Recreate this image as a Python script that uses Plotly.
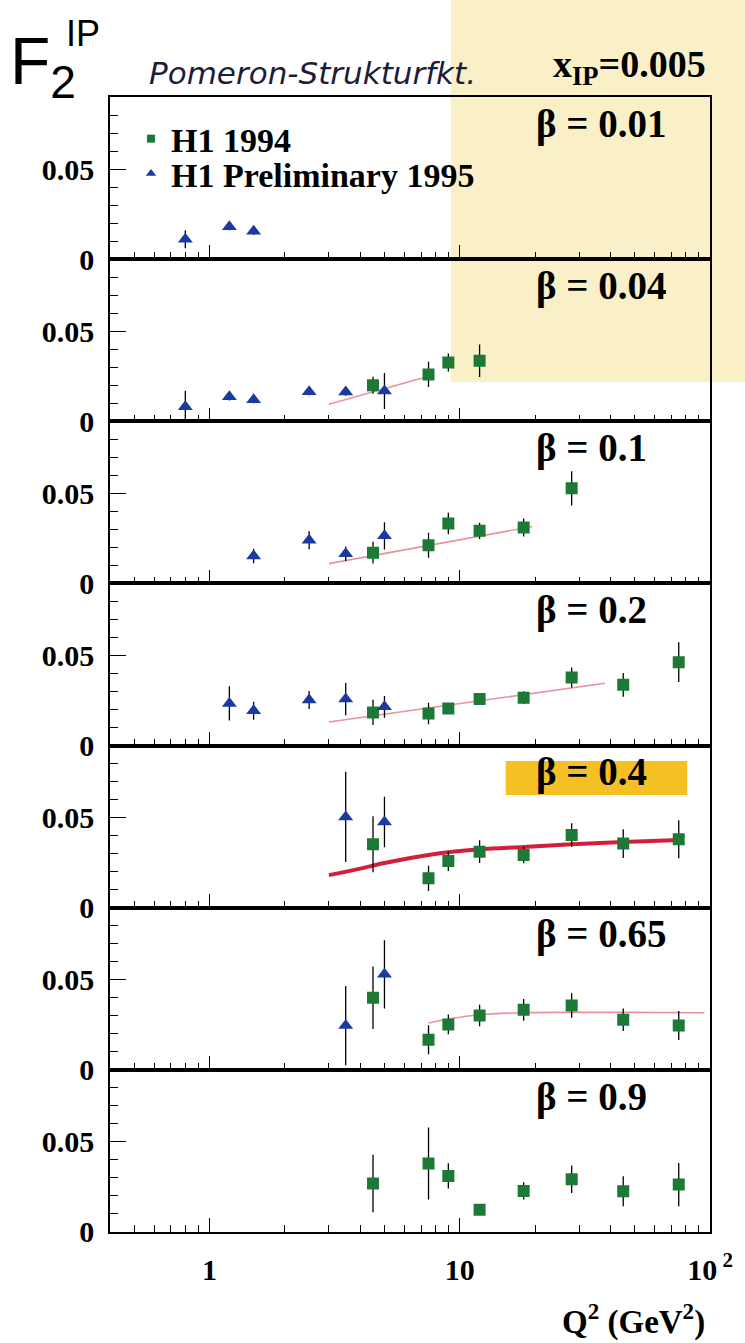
import numpy as np
import plotly.graph_objects as go
from plotly.subplots import make_subplots

# ---------------- data ----------------
beta_labels = ["0.01", "0.04", "0.1", "0.2", "0.4", "0.65", "0.9"]

# H1 Preliminary 1995 (blue triangles)
h95_q2_b001 = [0.8, 1.2, 1.5]
h95_f2_b001 = [0.011, 0.018, 0.0155]
h95_er_b001 = [0.005, 0.002, 0.002]

h95_q2_b004 = [0.8, 1.2, 1.5, 2.5, 3.5, 5.0]
h95_f2_b004 = [0.008, 0.0136, 0.012, 0.0164, 0.0162, 0.0168]
h95_er_b004 = [0.009, 0.002, 0.002, 0.002, 0.002, 0.010]

h95_q2_b01 = [1.5, 2.5, 3.5, 5.0]
h95_f2_b01 = [0.0152, 0.024, 0.0165, 0.0264]
h95_er_b01 = [0.004, 0.005, 0.004, 0.0075]

h95_q2_b02 = [1.2, 1.5, 2.5, 3.5, 5.0]
h95_f2_b02 = [0.0234, 0.0193, 0.0253, 0.0258, 0.0215]
h95_er_b02 = [0.0095, 0.005, 0.005, 0.009, 0.006]

h95_q2_b04 = [3.5, 5.0]
h95_f2_b04 = [0.0504, 0.0476]
h95_er_b04 = [0.025, 0.014]

h95_q2_b065 = [3.5, 5.0]
h95_f2_b065 = [0.0246, 0.053]
h95_er_b065 = [0.022, 0.019]

# H1 1994 (green squares)
h94_q2_b004 = [4.5, 7.5, 9, 12]
h94_f2_b004 = [0.020, 0.026, 0.0326, 0.0336]
h94_er_b004 = [0.0047, 0.007, 0.005, 0.009]

h94_q2_b01 = [4.5, 7.5, 9, 12, 18, 28]
h94_f2_b01 = [0.0171, 0.0212, 0.0333, 0.0292, 0.031, 0.0528]
h94_er_b01 = [0.006, 0.007, 0.006, 0.0045, 0.005, 0.0095]

h94_q2_b02 = [4.5, 7.5, 9, 12, 18, 28, 45, 75]
h94_f2_b02 = [0.0184, 0.0178, 0.0206, 0.0258, 0.0266, 0.0378, 0.0337, 0.0463]
h94_er_b02 = [0.007, 0.006, 0.003, 0.003, 0.0035, 0.0056, 0.0066, 0.011]

h94_q2_b04 = [4.5, 7.5, 9, 12, 18, 28, 45, 75]
h94_f2_b04 = [0.0352, 0.0163, 0.0259, 0.0311, 0.0293, 0.0404, 0.0356, 0.038]
h94_er_b04 = [0.0155, 0.007, 0.0055, 0.0063, 0.0046, 0.0065, 0.008, 0.0105]

h94_q2_b065 = [4.5, 7.5, 9, 12, 18, 28, 45, 75]
h94_f2_b065 = [0.040, 0.0167, 0.0252, 0.0302, 0.0333, 0.0357, 0.0278, 0.0246]
h94_er_b065 = [0.0173, 0.008, 0.0055, 0.006, 0.006, 0.0068, 0.0063, 0.008]

h94_q2_b09 = [4.5, 7.5, 9, 12, 18, 28, 45, 75]
h94_f2_b09 = [0.0269, 0.038, 0.0311, 0.0124, 0.0228, 0.0293, 0.0226, 0.0263]
h94_er_b09 = [0.016, 0.020, 0.007, 0.003, 0.0048, 0.0076, 0.0083, 0.012]

# QCD fit curves
fit_q2_b004 = [3.0, 7.5]
fit_f2_b004 = [0.0095, 0.025]
fit_q2_b01 = [3.0, 19.5]
fit_f2_b01 = [0.011, 0.0316]
fit_q2_b02 = [3.0, 38]
fit_f2_b02 = [0.0131, 0.0346]
fit_q2_b04 = [3, 4, 5, 7.5, 12, 18, 28, 45, 75]
fit_f2_b04 = [0.0181, 0.0217, 0.0248, 0.0293, 0.0324, 0.0337, 0.0352, 0.0365, 0.0376]
fit_q2_b065 = [7.5, 9, 12, 18, 28, 45, 95]
fit_f2_b065 = [0.026, 0.0282, 0.0306, 0.0317, 0.0319, 0.0319, 0.0317]

x_major_ticks = [1, 10, 100]
x_major_text = ["1", "10", "10<sup> 2</sup>"]
x_minor_ticks = [0.5, 0.6, 0.7, 0.8, 0.9, 2, 3, 4, 5, 6, 7, 8, 9,
                 20, 30, 40, 50, 60, 70, 80, 90]
y_major_ticks = [0, 0.05]
y_major_text = ["0", "0.05"]
y_minor_ticks = [0.01, 0.02, 0.03, 0.04, 0.06, 0.07, 0.08]

# ---------------- styling ----------------
GREEN = "#1d7a36"
BLUE = "#1b3aa0"
PINK = "#e8939b"
RED = "#d21f3c"
SERIF = "Liberation Serif"

h95 = {1: (h95_q2_b001, h95_f2_b001, h95_er_b001),
       2: (h95_q2_b004, h95_f2_b004, h95_er_b004),
       3: (h95_q2_b01, h95_f2_b01, h95_er_b01),
       4: (h95_q2_b02, h95_f2_b02, h95_er_b02),
       5: (h95_q2_b04, h95_f2_b04, h95_er_b04),
       6: (h95_q2_b065, h95_f2_b065, h95_er_b065)}
h94 = {2: (h94_q2_b004, h94_f2_b004, h94_er_b004),
       3: (h94_q2_b01, h94_f2_b01, h94_er_b01),
       4: (h94_q2_b02, h94_f2_b02, h94_er_b02),
       5: (h94_q2_b04, h94_f2_b04, h94_er_b04),
       6: (h94_q2_b065, h94_f2_b065, h94_er_b065),
       7: (h94_q2_b09, h94_f2_b09, h94_er_b09)}
fits = {2: (fit_q2_b004, fit_f2_b004, PINK, 1.6, "linear"),
        3: (fit_q2_b01, fit_f2_b01, PINK, 1.6, "linear"),
        4: (fit_q2_b02, fit_f2_b02, PINK, 1.6, "linear"),
        5: (fit_q2_b04, fit_f2_b04, RED, 4.0, "spline"),
        6: (fit_q2_b065, fit_f2_b065, PINK, 1.6, "spline")}

fig = make_subplots(rows=7, cols=1, shared_xaxes=True, vertical_spacing=0)

for r in range(1, 8):
    if r in fits:
        q, f, c, w, sh = fits[r]
        fig.add_trace(go.Scatter(x=q, y=f, mode="lines", showlegend=False,
                                 line=dict(color=c, width=w, shape=sh)), row=r, col=1)
    if r in h94:
        q, f, e = h94[r]
        fig.add_trace(go.Scatter(x=q, y=f, mode="markers", showlegend=False,
                                 marker=dict(symbol="square", size=12, color=GREEN),
                                 error_y=dict(type="data", array=e, color="black",
                                              thickness=1.3, width=0)), row=r, col=1)
    if r in h95:
        q, f, e = h95[r]
        fig.add_trace(go.Scatter(x=q, y=f, mode="markers", showlegend=False,
                                 marker=dict(symbol="triangle-up", size=13, color=BLUE),
                                 error_y=dict(type="data", array=e, color="black",
                                              thickness=1.3, width=0)), row=r, col=1)

# legend-only entries (two legends for tight row spacing)
fig.add_trace(go.Scatter(x=[None], y=[None], mode="markers", name="H1 1994",
                         legend="legend",
                         marker=dict(symbol="square", size=8, color=GREEN)), row=1, col=1)
fig.add_trace(go.Scatter(x=[None], y=[None], mode="markers", name="H1 Preliminary 1995",
                         legend="legend2",
                         marker=dict(symbol="triangle-up", size=9, color=BLUE)), row=1, col=1)

for r in range(1, 8):
    fig.update_xaxes(type="log", range=[np.log10(0.4), 2],
                     showline=True, mirror=True, linecolor="black", linewidth=1.5,
                     ticks="inside", tickvals=x_major_ticks, ticktext=x_major_text,
                     ticklen=14, tickwidth=1.3, tickcolor="black",
                     minor=dict(tickmode="array", tickvals=x_minor_ticks, ticks="inside",
                                ticklen=7, tickwidth=1.2, tickcolor="black", showgrid=False),
                     showgrid=False, zeroline=False,
                     showticklabels=(r == 7),
                     tickfont=dict(family=SERIF, size=30, color="black", weight="bold"),
                     ticklabelstandoff=10,
                     row=r, col=1)
    fig.update_yaxes(range=[0, 0.09], showline=True, mirror=True, linecolor="black",
                     linewidth=1.5, ticks="inside", tickvals=y_major_ticks,
                     ticktext=y_major_text, ticklen=16, tickwidth=1.3, tickcolor="black",
                     minor=dict(tickmode="array", tickvals=y_minor_ticks, ticks="inside",
                                ticklen=8, tickwidth=1.2, tickcolor="black", showgrid=False),
                     showgrid=False, zeroline=False,
                     tickfont=dict(family=SERIF, size=30, color="black", weight="bold"),
                     ticklabelstandoff=8,
                     row=r, col=1)

# beta labels
for i, b in enumerate(beta_labels, start=1):
    sfx = "" if i == 1 else str(i)
    fig.add_annotation(xref=f"x{sfx} domain", yref=f"y{sfx} domain",
                       x=0.706, y=0.835, xanchor="left", yanchor="middle",
                       text=f"β = {b}", showarrow=False,
                       font=dict(family=SERIF, size=39, color="black", weight="bold"))

# header texts
fig.add_annotation(xref="paper", yref="paper", x=0.997, y=1.0265,
                   xanchor="right", yanchor="middle", showarrow=False,
                   text="x<sub>IP</sub>=0.005",
                   font=dict(family=SERIF, size=38, color="black", weight="bold"))
fig.add_annotation(xref="paper", yref="paper", x=0.0615, y=1.021,
                   xanchor="left", yanchor="middle", showarrow=False,
                   text="<i>Pomeron-Strukturfkt.</i>",
                   font=dict(family="DejaVu Sans", size=31, color="#1c1d3a"))
fig.add_annotation(xref="paper", yref="paper", x=-0.17, y=1.066,
                   xanchor="left", yanchor="top", showarrow=False,
                   text="F<sub>2</sub>",
                   font=dict(family="Liberation Sans", size=66, color="black"))
fig.add_annotation(xref="paper", yref="paper", x=-0.077, y=1.056,
                   xanchor="left", yanchor="middle", showarrow=False, text="IP",
                   font=dict(family="Liberation Sans", size=36, color="black"))
fig.add_annotation(xref="paper", yref="paper", x=0.995, y=-0.077,
                   xanchor="right", yanchor="middle", showarrow=False,
                   text="Q<sup>2</sup> (GeV<sup>2</sup>)",
                   font=dict(family=SERIF, size=33, color="black", weight="bold"))

# highlighter marks
fig.add_shape(type="rect", xref="paper", yref="paper", x0=0.568, x1=1.06,
              y0=0.7489, y1=1.09, fillcolor="#faf0c8", line=dict(width=0), layer="below")
fig.add_shape(type="rect", xref="paper", yref="paper", x0=0.6595, x1=0.962,
              y0=0.385, y1=0.415, fillcolor="#f4c024", line=dict(width=0), layer="below")

legend_font = dict(family=SERIF, size=34, color="black", weight="bold")
fig.update_layout(
    width=745, height=1343,
    margin=dict(l=110, r=33, t=97, b=111),
    paper_bgcolor="white", plot_bgcolor="rgba(0,0,0,0)",
    showlegend=True,
    legend=dict(x=0.035, y=0.9885, xanchor="left", yanchor="top",
                bgcolor="rgba(0,0,0,0)", borderwidth=0, font=legend_font),
    legend2=dict(x=0.035, y=0.9577, xanchor="left", yanchor="top",
                 bgcolor="rgba(0,0,0,0)", borderwidth=0, font=legend_font),
)

fig.write_html("out.html")
